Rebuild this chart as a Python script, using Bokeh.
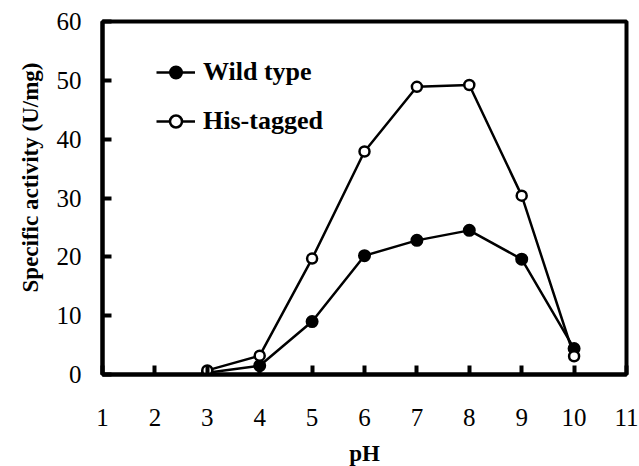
from bokeh.plotting import figure
from bokeh.models import Range1d, FixedTicker, Legend, LegendItem, Title
from bokeh.embed import file_html
from bokeh.resources import INLINE

ph = [3, 4, 5, 6, 7, 8, 9, 10]
wild_type = [0.3, 1.5, 9.0, 20.2, 22.8, 24.5, 19.6, 4.4]
his_tagged = [0.7, 3.2, 19.7, 37.9, 48.9, 49.2, 30.4, 3.1]
x_ticks = [1, 2, 3, 4, 5, 6, 7, 8, 9, 10, 11]
y_ticks = [0, 10, 20, 30, 40, 50, 60]

FONT = "Liberation Serif"

p = figure(frame_width=524, frame_height=353,
           output_backend="svg", toolbar_location=None,
           x_range=Range1d(1, 11), y_range=Range1d(0, 60),
           min_border_left=102, min_border_top=21, min_border_right=12, min_border_bottom=90)
p.background_fill_color = "white"
p.border_fill_color = "white"
p.outline_line_color = "black"
p.outline_line_width = 4
p.xgrid.visible = False
p.ygrid.visible = False

for ax in (p.xaxis[0], p.yaxis[0]):
    ax.axis_line_width = 4
    ax.major_tick_line_width = 4
    ax.major_tick_in = 9
    ax.major_tick_out = 0
    ax.minor_tick_line_color = None
    ax.major_label_text_font = FONT
    ax.major_label_text_font_size = "25px"
    ax.major_label_text_color = "black"
    ax.axis_label_text_font = FONT
    ax.axis_label_text_font_style = "bold"
    ax.axis_label_text_font_size = "23px"
    ax.axis_label_text_color = "black"

p.xaxis.ticker = FixedTicker(ticks=x_ticks)
p.yaxis.ticker = FixedTicker(ticks=y_ticks)
p.xaxis.major_label_standoff = 34
p.yaxis.major_label_standoff = 21
p.xaxis.axis_label = "pH"
p.xaxis.axis_label_standoff = 12

ytitle = Title(text="Specific activity (U/mg)", align="right", offset=41,
               text_font=FONT, text_font_style="bold", text_font_size="23px",
               text_color="black", standoff=22)
p.add_layout(ytitle, "left")

l1 = p.line(ph, wild_type, line_color="black", line_width=2.5)
c1 = p.scatter(ph, wild_type, marker="circle", size=11, fill_color="black", line_color="black", line_width=2)
l2 = p.line(ph, his_tagged, line_color="black", line_width=2.5)
c2 = p.scatter(ph, his_tagged, marker="circle", size=10, fill_color="white", line_color="black", line_width=2.5)

legend = Legend(items=[LegendItem(label="Wild type", renderers=[l1, c1]),
                       LegendItem(label="His-tagged", renderers=[l2, c2])],
                location=(54, 238))
legend.background_fill_alpha = 0
legend.border_line_color = None
legend.label_text_font = FONT
legend.label_text_font_style = "bold"
legend.label_text_font_size = "26px"
legend.label_text_color = "black"
legend.glyph_width = 39
legend.glyph_height = 30
legend.label_height = 30
legend.spacing = 19
legend.padding = 5
legend.margin = 0
legend.label_standoff = 8
p.add_layout(legend)

open("out.html", "w").write(file_html(p, INLINE))
